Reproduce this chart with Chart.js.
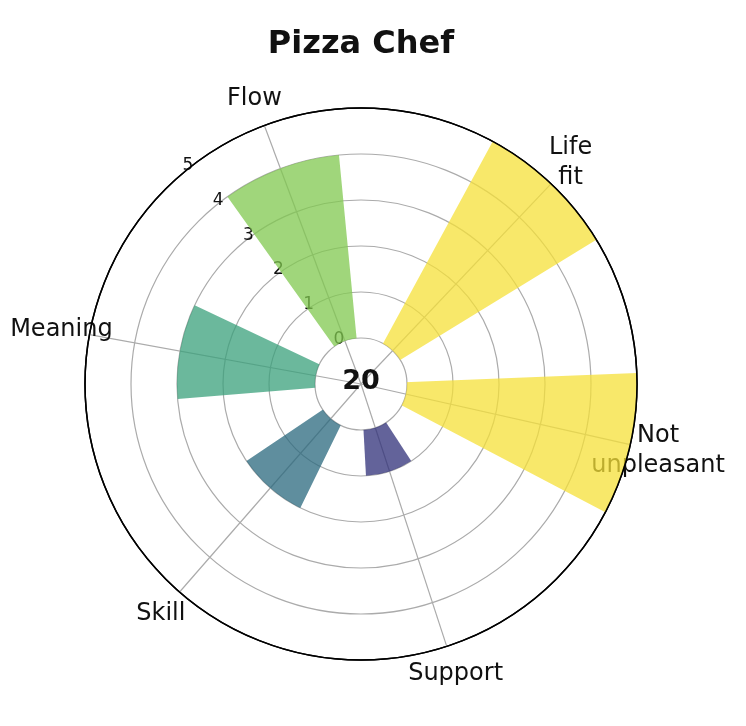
<!DOCTYPE html>
<html><head><meta charset="utf-8">
<script src="https://cdn.jsdelivr.net/npm/chart.js@4"></script>
<style>html,body{margin:0;padding:0;background:#fff}</style>
</head><body>
<canvas id="c" width="746" height="726"></canvas>
<script>
const chartTitle = 'Pizza Chef';
// categories listed clockwise, starting from "Life fit"
const categories = ['Life fit', 'Not unpleasant', 'Support', 'Skill', 'Meaning', 'Flow'];
const categoryLabels = [['Life', 'fit'], ['Not', 'unpleasant'], ['Support'], ['Skill'], ['Meaning'], ['Flow']];
// angular position of each category (degrees, clockwise from top)
const thetaDeg = [43.5, 102.7, 161.9, 221.1, 280.3, 339.5];
const scores = [5, 5, 1, 2, 3, 4];
const radialTicks = [0, 1, 2, 3, 4, 5];
const centerText = '20';
const barColors = [
  'rgba(246,224,56,0.75)',
  'rgba(246,224,56,0.75)',
  'rgba(47,47,120,0.75)',
  'rgba(42,104,126,0.75)',
  'rgba(58,160,123,0.75)',
  'rgba(128,200,79,0.75)'
];
const BAR_WIDTH = 30;

// Build ring: bar, gap, bar, gap ... (angles from thetaDeg)
const ringValues = [], ringColors = [], ringAngles = [], ringLabels = [];
for (let i = 0; i < categories.length; i++) {
  ringValues.push(scores[i]); ringColors.push(barColors[i]); ringAngles.push(BAR_WIDTH); ringLabels.push(categories[i]);
  if (i < categories.length - 1) {
    ringValues.push(0); ringColors.push('rgba(0,0,0,0)');
    ringAngles.push(thetaDeg[i + 1] - thetaDeg[i] - BAR_WIDTH); ringLabels.push('');
  }
}

const FONT = '"DejaVu Sans", "Liberation Sans", sans-serif';
const GRID = '#ababab';
const GRID_W = 1.2;
const rad = d => d * Math.PI / 180;

const decor = {
  id: 'decor',
  beforeDatasetsDraw(chart) {
    const s = chart.scales.r, ctx = chart.ctx;
    const R = s.getDistanceFromCenterForValue(s.max);
    ctx.save();
    // spokes
    ctx.strokeStyle = GRID;
    ctx.lineWidth = GRID_W;
    thetaDeg.forEach(t => {
      const a = rad(t - 90);
      ctx.beginPath();
      ctx.moveTo(s.xCenter, s.yCenter);
      ctx.lineTo(s.xCenter + Math.cos(a) * R, s.yCenter + Math.sin(a) * R);
      ctx.stroke();
    });
    // category labels
    ctx.fillStyle = '#111';
    ctx.textAlign = 'center';
    ctx.textBaseline = 'middle';
    ctx.font = '24px ' + FONT;
    categoryLabels.forEach((lines, i) => {
      const a = rad(thetaDeg[i] - 90);
      const d = R + 28.5;
      const x = s.xCenter + Math.cos(a) * d, y = s.yCenter + Math.sin(a) * d;
      lines.forEach((t, j) => ctx.fillText(t, x, y + (j - (lines.length - 1) / 2) * 30));
    });
    // radial tick labels
    ctx.font = '17px ' + FONT;
    const ta = rad(-41 - 90);
    radialTicks.forEach(v => {
      const d = s.getDistanceFromCenterForValue(v);
      ctx.fillText(String(v), s.xCenter + Math.cos(ta) * d + 8, s.yCenter + Math.sin(ta) * d - 10);
    });
    ctx.restore();
    // keep the central hole free of bars
    ctx.save();
    const r0 = s.getDistanceFromCenterForValue(0);
    ctx.beginPath();
    ctx.rect(0, 0, chart.width, chart.height);
    ctx.arc(s.xCenter, s.yCenter, r0, 0, 2 * Math.PI);
    ctx.clip('evenodd');
  },
  afterDatasetsDraw(chart) {
    const s = chart.scales.r, ctx = chart.ctx;
    ctx.restore();
    ctx.save();
    // outer frame on top
    ctx.strokeStyle = '#000';
    ctx.lineWidth = 1.5;
    ctx.beginPath();
    ctx.arc(s.xCenter, s.yCenter, s.getDistanceFromCenterForValue(s.max), 0, 2 * Math.PI);
    ctx.stroke();
    ctx.fillStyle = '#111';
    ctx.textAlign = 'center';
    ctx.textBaseline = 'middle';
    ctx.font = 'bold 27px ' + FONT;
    ctx.fillText(centerText, s.xCenter, s.yCenter - 2);
    ctx.restore();
  }
};

new Chart(document.getElementById('c'), {
  type: 'polarArea',
  data: {
    labels: ringLabels,
    datasets: [{
      data: ringValues,
      backgroundColor: ringColors,
      borderWidth: 0,
      angle: ctx => ringAngles[ctx.dataIndex]
    }]
  },
  options: {
    responsive: false,
    animation: false,
    layout: { padding: { left: 85, right: 109, top: 0, bottom: 65 } },
    plugins: {
      legend: { display: false },
      tooltip: { enabled: false },
      title: {
        display: true,
        text: chartTitle,
        color: '#111',
        font: { family: FONT, size: 32, weight: 'bold' },
        padding: { top: 25, bottom: 44 }
      }
    },
    scales: {
      r: {
        labels: categories,
        min: -1,
        max: 5,
        startAngle: thetaDeg[0] - BAR_WIDTH / 2,
        ticks: { display: false, stepSize: 1 },
        grid: {
          circular: true,
          color: c => (c.tick && c.tick.value === 5) ? '#000' : GRID,
          lineWidth: c => (c.tick && c.tick.value === 5) ? 1.5 : GRID_W
        },
        angleLines: { display: false },
        pointLabels: { display: false }
      }
    }
  },
  plugins: [decor]
});
</script>
</body></html>
